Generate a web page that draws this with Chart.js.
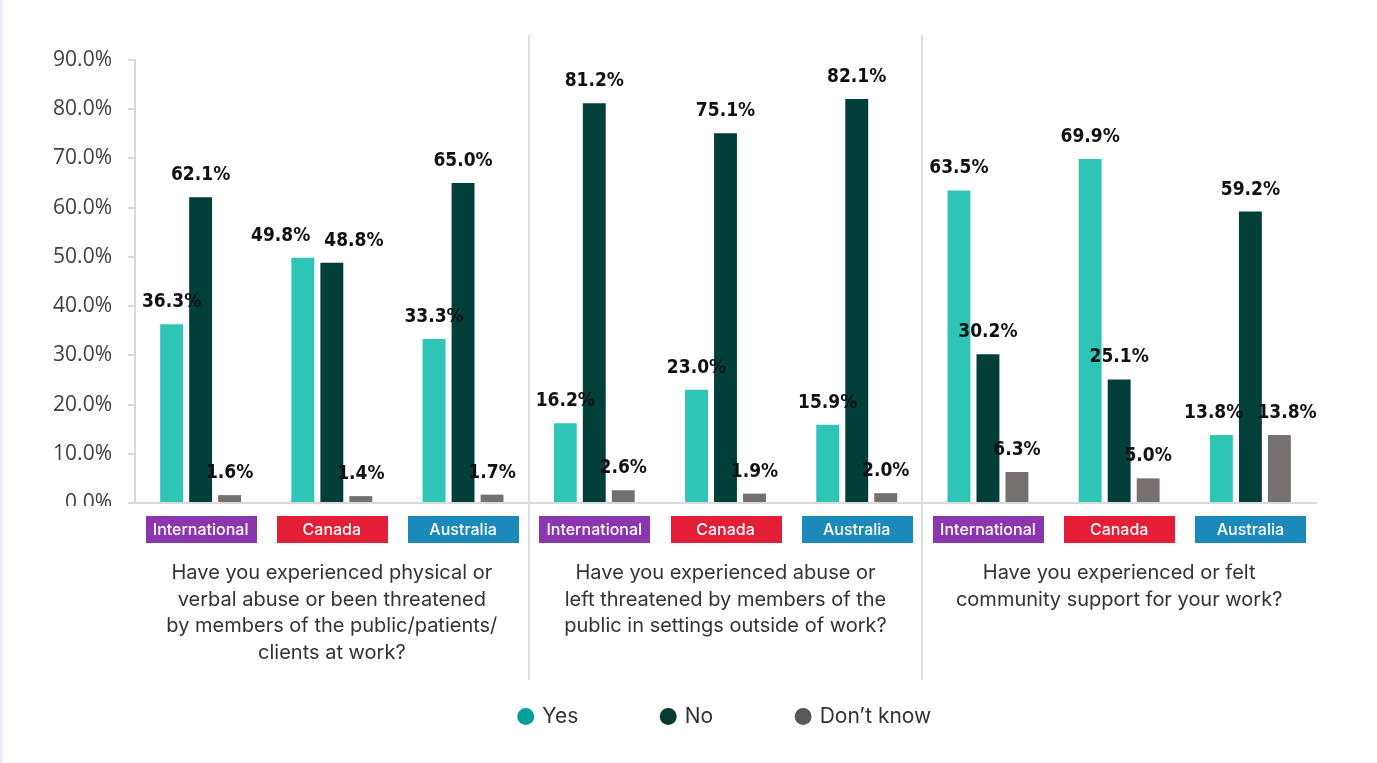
<!DOCTYPE html>
<html>
<head>
<meta charset="utf-8">
<script src="https://cdn.jsdelivr.net/npm/chart.js@4/dist/chart.umd.min.js"></script>
<style>
  html, body { margin: 0; padding: 0; background: #fff; }
  #wrap { position: relative; width: 1377px; height: 763px; }
  #edge { position: absolute; left: 0; top: 0; width: 3px; height: 763px; background: #eef0fb; }
</style>
</head>
<body>
<div id="wrap">
  <canvas id="surveyChart" width="1377" height="763"></canvas>
  <div id="edge"></div>
</div>
<script>
const countries = ['International', 'Canada', 'Australia'];
const countryColors = ['#8b35ae', '#e41e36', '#1b8aba'];

const questions = [
  ['Have you experienced physical or', 'verbal abuse or been threatened', 'by members of the public/patients/', 'clients at work?'],
  ['Have you experienced abuse or', 'left threatened by members of the', 'public in settings outside of work?'],
  ['Have you experienced or felt', 'community support for your work?']
];

const yesValues = [36.3, 49.8, 33.3, 16.2, 23.0, 15.9, 63.5, 69.9, 13.8];
const noValues = [62.1, 48.8, 65.0, 81.2, 75.1, 82.1, 30.2, 25.1, 59.2];
const dontKnowValues = [1.6, 1.4, 1.7, 2.6, 1.9, 2.0, 6.3, 5.0, 13.8];

const yTicks = [0, 10, 20, 30, 40, 50, 60, 70, 80, 90];

const seriesNames = ['Yes', 'No', 'Don\u2019t know'];
const barColors = ['#2ec4b6', '#033f39', '#767171'];
const legendColors = ['#00a19a', '#063b34', '#58595b'];

const labels = questions.flatMap(() => countries);

const LABEL_FONT = 'bold 19px "DejaVu Sans Condensed", "DejaVu Sans", sans-serif';
const TEXT_FONT = '"Inter", "Noto Sans", sans-serif';

// value labels above bars, pushed apart when two in the same slot would collide
function drawValueLabels(chart) {
  const ctx = chart.ctx;
  ctx.save();
  ctx.font = LABEL_FONT;
  const items = [];
  chart.data.datasets.forEach((ds, di) => {
    chart.getDatasetMeta(di).data.forEach((bar, i) => {
      const text = ds.data[i].toFixed(1) + '%';
      items.push({ i, di, text, w: ctx.measureText(text).width, x: bar.x, y: bar.y - 17 });
    });
  });
  for (let i = 0; i < labels.length; i++) {
    const row = items.filter(it => it.i === i);
    for (let a = 0; a < row.length; a++) {
      for (let b = a + 1; b < row.length; b++) {
        const A = row[a], B = row[b];
        if (Math.abs(A.y - B.y) > 18) continue;
        const need = (A.w + B.w) / 2 + 14 - (B.x - A.x);
        if (need > 0) { A.x -= need / 2; B.x += need / 2; }
      }
    }
  }
  ctx.fillStyle = '#111';
  ctx.textAlign = 'center';
  ctx.textBaseline = 'alphabetic';
  items.forEach(it => ctx.fillText(it.text, it.x, it.y));
  ctx.restore();
}

const groupDecor = {
  id: 'groupDecor',
  afterLayout(chart) {
    // keep the legend centred under the plot area rather than the canvas
    const lg = chart.legend;
    const area = chart.chartArea;
    const shift = (area.left + area.right) / 2 - (lg.left + lg.right) / 2;
    lg.left += shift;
    lg.right += shift;
  },
  beforeDatasetsDraw(chart) {
    const ctx = chart.ctx;
    const x = chart.scales.x;
    ctx.save();
    ctx.strokeStyle = '#dedede';
    ctx.lineWidth = 2;
    for (let g = 1; g < questions.length; g++) {
      const px = Math.round(x.getPixelForValue(g * countries.length - 0.5));
      ctx.beginPath();
      ctx.moveTo(px, 35);
      ctx.lineTo(px, 680);
      ctx.stroke();
    }
    ctx.restore();
  },
  afterDatasetsDraw(chart) {
    drawValueLabels(chart);
  },
  afterDraw(chart) {
    const ctx = chart.ctx;
    const x = chart.scales.x;
    const area = chart.chartArea;
    ctx.save();
    // the bottom tick label sits partly under the axis band
    ctx.fillStyle = '#fff';
    ctx.fillRect(6, area.bottom + 3, area.left - 12, 14);

    // country tags under each bar cluster
    ctx.font = '500 16px ' + TEXT_FONT;
    ctx.textAlign = 'center';
    ctx.textBaseline = 'middle';
    labels.forEach((name, i) => {
      const cx = x.getPixelForValue(i);
      const k = countries.indexOf(name);
      ctx.fillStyle = countryColors[k];
      ctx.fillRect(Math.round(cx - 55), area.bottom + 13, 111, 27);
      ctx.fillStyle = '#fff';
      ctx.fillText(name, cx, area.bottom + 27);
    });

    // question text for each group
    ctx.font = '20px ' + TEXT_FONT;
    ctx.fillStyle = '#333';
    questions.forEach((lines, g) => {
      const cx = x.getPixelForValue(g * countries.length + 1);
      lines.forEach((line, n) => {
        ctx.fillText(line, cx, area.bottom + 70 + n * 26.5);
      });
    });
    ctx.restore();
  }
};

new Chart(document.getElementById('surveyChart'), {
  type: 'bar',
  data: {
    labels: labels,
    datasets: [yesValues, noValues, dontKnowValues].map((values, k) => ({
      label: seriesNames[k],
      data: values,
      backgroundColor: barColors[k],
      borderWidth: 0,
      barPercentage: 0.79,
      categoryPercentage: 0.663
    }))
  },
  options: {
    responsive: false,
    animation: false,
    layout: { padding: { top: 60, left: 30, right: 61, bottom: 26 } },
    scales: {
      x: {
        grid: {
          drawOnChartArea: false,
          tickLength: 5,
          color: ctx => (ctx.index > 0 && ctx.index % countries.length === 0 && ctx.index < labels.length) ? '#d9d9d9' : 'rgba(0,0,0,0)'
        },
        border: { color: '#d9d9d9', width: 2 },
        ticks: { display: false },
        afterFit(scale) { scale.height = 119; }
      },
      y: {
        min: 0,
        max: 90,
        afterBuildTicks(scale) { scale.ticks = yTicks.map(v => ({ value: v })); },
        grid: { drawOnChartArea: false, tickLength: 7, color: '#d9d9d9', lineWidth: 2 },
        border: { color: '#d9d9d9', width: 2 },
        ticks: {
          padding: 16,
          color: '#404040',
          font: { family: '"Open Sans", sans-serif', size: 21 },
          callback: v => v.toFixed(1) + '%'
        },
        afterFit(scale) { scale.width = 105; }
      }
    },
    plugins: {
      tooltip: { enabled: false },
      legend: {
        position: 'bottom',
        labels: {
          usePointStyle: true,
          pointStyle: 'circle',
          boxWidth: 12,
          boxHeight: 12,
          padding: 84,
          color: '#333',
          font: { family: 'Inter, "Noto Sans", sans-serif', size: 21 },
          generateLabels(chart) {
            const items = Chart.defaults.plugins.legend.labels.generateLabels(chart);
            items.forEach((it, k) => {
              it.fillStyle = legendColors[k];
              it.strokeStyle = legendColors[k];
              it.lineWidth = 0;
            });
            return items;
          }
        }
      }
    }
  },
  plugins: [groupDecor]
});
</script>
</body>
</html>
